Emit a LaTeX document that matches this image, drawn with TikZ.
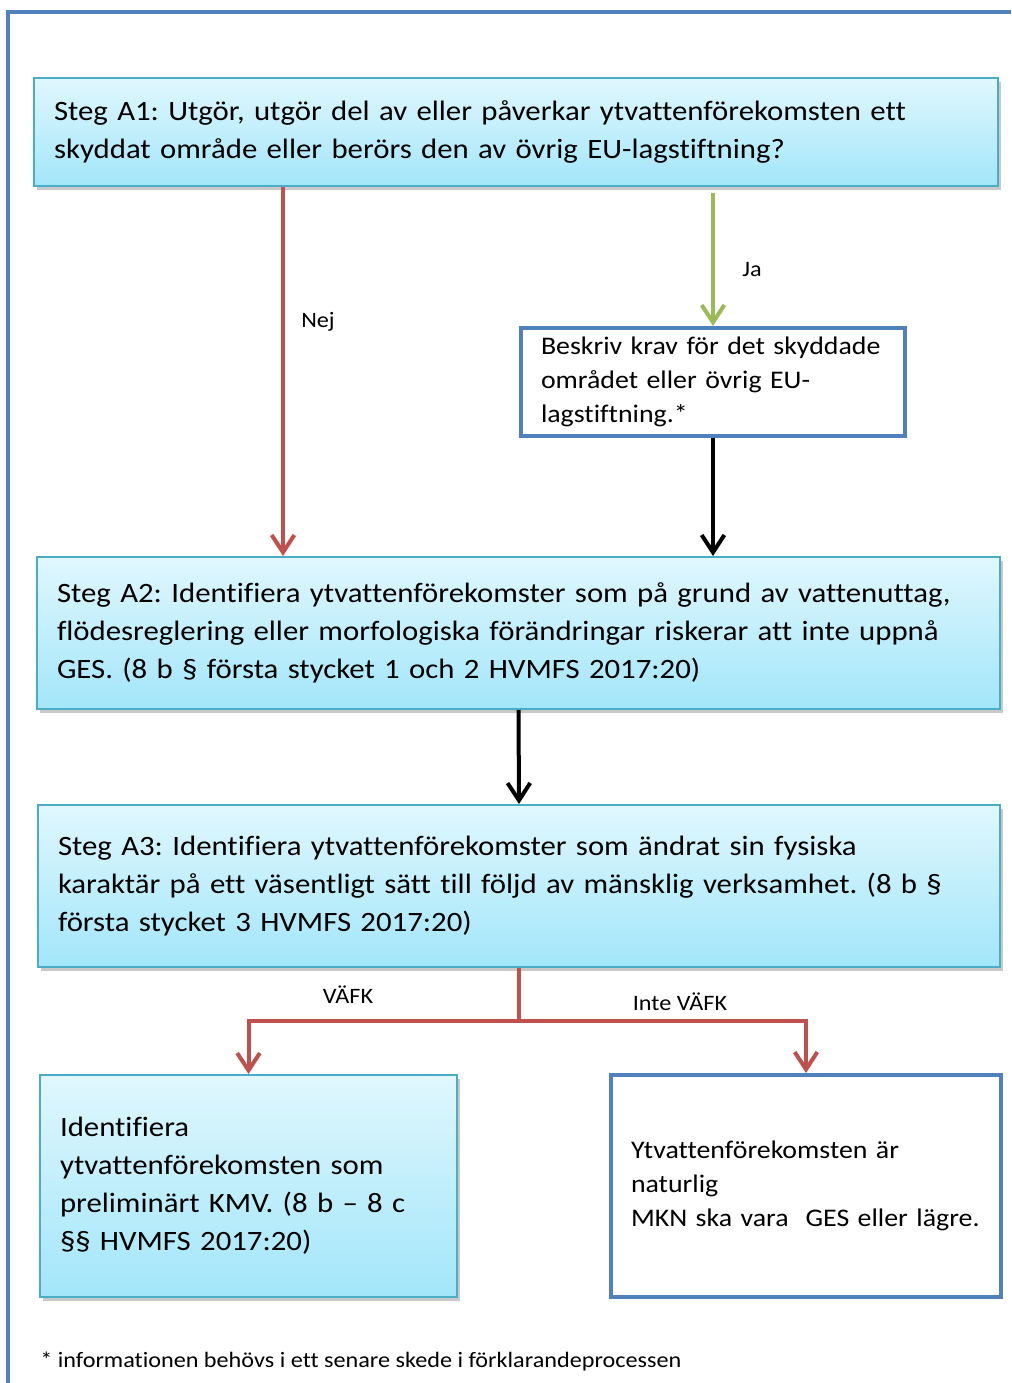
\documentclass[tikz,border=0pt]{standalone}
\usepackage{fontspec}
\setmainfont{Carlito}[FakeStretch=1.1, Ligatures=NoCommon]
\usetikzlibrary{arrows.meta,shadows,calc}
\definecolor{cyanborder}{HTML}{4BACC6}
\definecolor{gradtop}{HTML}{E0F7FD}
\definecolor{gradbot}{HTML}{A2E6FA}
\definecolor{blueframe}{HTML}{4F81BD}
\definecolor{redarr}{HTML}{C0504D}
\definecolor{greenarr}{HTML}{9BBB59}
\tikzset{
  stepbox/.style={draw=cyanborder, line width=1.5pt, top color=gradtop, bottom color=gradbot,
    drop shadow={shadow xshift=2pt, shadow yshift=-3pt, opacity=0.35, fill=black!60},
    align=left, inner xsep=15pt, inner ysep=0pt, font=\fontsize{21}{28.5}\selectfont},
  whitebox/.style={draw=blueframe, line width=3pt, fill=white,
    align=left, inner xsep=15pt, inner ysep=0pt, font=\fontsize{19}{25.5}\selectfont},
  lbl/.style={font=\fontsize{16.5}{20}\selectfont, inner sep=0pt},
  conn/.style={line width=3pt, -{Straight Barb[length=13pt,width=17pt,line width=3pt]}},
}
\begin{document}
\frenchspacing
\begin{tikzpicture}[x=0.75pt,y=-0.75pt]
\useasboundingbox (0,0) rectangle (1011,1383);
\fill[white] (0,0) rectangle (1011,1383);
% outer frame
\draw[blueframe, line width=2.5pt] (8,1383) -- (8,12) -- (1011,12);

\node[stepbox, minimum width=723pt, minimum height=81pt, text width=693pt] (A1) at (516,132)
  {Steg A1: Utgör, utgör del av eller påverkar ytvattenförekomsten ett\\
   skyddat område eller berörs den av övrig EU-lagstiftning?};

\node[whitebox, minimum width=288pt, minimum height=81pt, text width=258pt] (B) at (713,382)
  {Beskriv krav för det skyddade\\ området eller övrig EU-\\ lagstiftning.*};

\node[stepbox, minimum width=722.25pt, minimum height=114pt, text width=692.25pt] (A2) at (518.5,633)
  {Steg A2: Identifiera ytvattenförekomster som på grund av vattenuttag,\\
   flödesreglering eller morfologiska förändringar riskerar att inte uppnå\\
   GES. (8 b § första stycket 1 och 2 HVMFS 2017:20)};

\node[stepbox, minimum width=721.5pt, minimum height=121.5pt, text width=691.5pt] (A3) at (519,886)
  {Steg A3: Identifiera ytvattenförekomster som ändrat sin fysiska\\
   karaktär på ett väsentligt sätt till följd av mänsklig verksamhet. (8 b §\\
   första stycket 3 HVMFS 2017:20)};

\node[stepbox, minimum width=312.75pt, minimum height=166.5pt, text width=282.75pt] (C) at (248.5,1186)
  {Identifiera\\ ytvattenförekomsten som\\ preliminärt KMV. (8 b – 8 c\\ §§ HVMFS 2017:20)};

\node[whitebox, minimum width=292.5pt, minimum height=166.5pt, text width=262.5pt] (D) at (806,1186)
  {Ytvattenförekomsten är\\ naturlig\\ MKN ska vara~ GES eller lägre.};

\coordinate (nejx) at (283,0);
\coordinate (split) at (519,1021);

\draw[conn, redarr] (A1.south -| nejx) -- (A2.north -| nejx);
\draw[conn, greenarr, shorten <=4.5pt] (A1.south -| B.north) -- (B.north);
\draw[conn, black] (B.south) -- (A2.north -| B.south);
\draw[conn, black] (A2.south) -- (A3.north);
\draw[redarr, line width=3pt] (A3.south) -- (split);
\draw[conn, redarr] (split) -| (C.north);
\draw[conn, redarr] (split) -| (D.north);

\node[lbl] (nej) at (318,322) {Nej};
\node[lbl] (ja) at (752,270) {Ja};
\node[lbl] (vafk) at (348,995) {VÄFK};
\node[lbl] (intevafk) at (680,1002) {Inte VÄFK};
\node[lbl, anchor=west] (foot) at (40,1361) {* informationen behövs i ett senare skede i förklarandeprocessen};
\end{tikzpicture}
\end{document}
